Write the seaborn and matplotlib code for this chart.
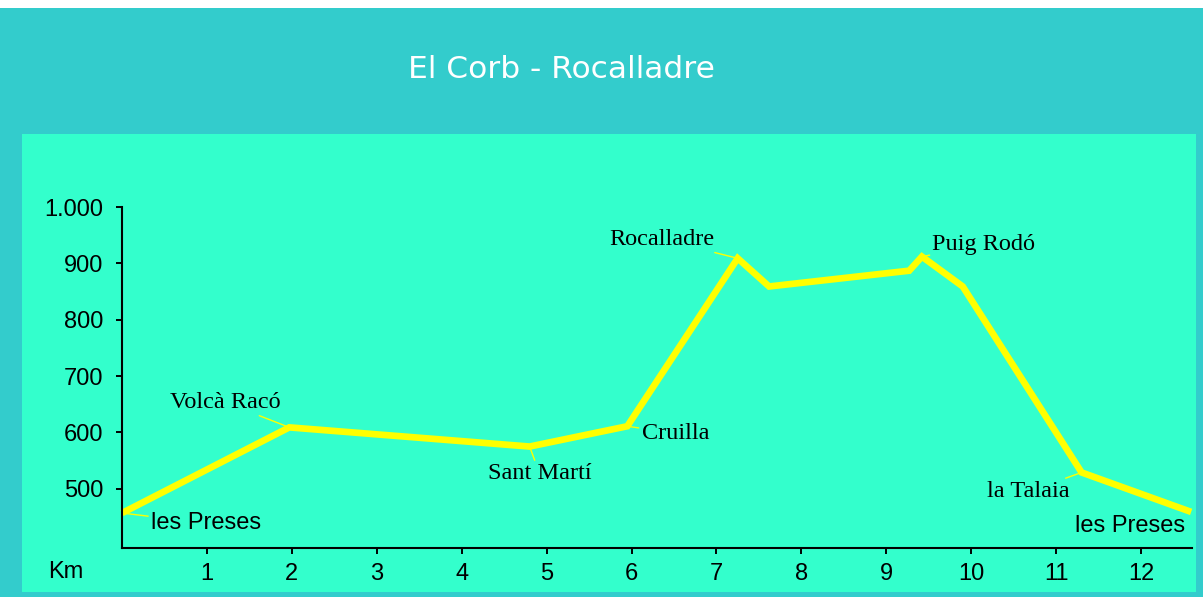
import matplotlib
matplotlib.use("Agg")
import matplotlib.pyplot as plt
from matplotlib.patches import Rectangle
import seaborn as sns

# profile of the route: km along the track and altitude (m)
km = [0.0, 1.97, 4.8, 5.95, 7.25, 7.62, 9.27, 9.42, 9.9, 11.3, 12.59]
altitude = [457, 609, 575, 611, 909, 859, 887, 912, 859, 529, 459]

# named points: index into the profile and the label text
place_idx = [0, 1, 2, 3, 4, 7, 9, 10]
place_names = ["les Preses", "Volcà Racó", "Sant Martí", "Cruilla",
               "Rocalladre", "Puig Rodó", "la Talaia", "les Preses"]

x_ticks = list(range(1, 13))
y_ticks = [500, 600, 700, 800, 900, 1000]
y_tick_labels = ["500", "600", "700", "800", "900", "1.000"]

# label placement, offset in pixels from the point (layout only)
label_offsets = [(84, -10), (-64, 25), (10, -27), (48, -7),
                 (-76, 19), (62, 12), (-53, -19), (-61, -14)]
sans_labels = {0, 7}

OUTER = "#33CCCC"
INNER = "#33FFCC"
LINE = "#FFFF00"

W, H = 1203, 597
fig = plt.figure(figsize=(W / 100, H / 100), dpi=100)
fig.patch.set_facecolor("white")

# background boxes (figure pixels, origin bottom-left)
fig.patches.append(Rectangle((0, 0), 1, (H - 8) / H, transform=fig.transFigure,
                             facecolor=OUTER, edgecolor="none", zorder=-2))
fig.patches.append(Rectangle((22 / W, (H - 592) / H), (1196 - 22) / W, (592 - 134) / H,
                             transform=fig.transFigure, facecolor=INNER,
                             edgecolor="none", zorder=-1))

fig.text(408 / W, 1 - 69 / H, "El Corb - Rocalladre", color="white",
         fontsize=22.5, family="DejaVu Sans", ha="left", va="center")

ax = fig.add_axes([122 / W, (H - 548) / H, (1192 - 122) / W, (548 - 207) / H])
ax.set_facecolor("none")

sns.lineplot(x=km, y=altitude, ax=ax, color=LINE, linewidth=4.8, sort=False,
             solid_joinstyle="miter", solid_capstyle="butt", clip_on=False)

ax.set_xlim(0, 12.6)
ax.set_ylim(395, 1000)
ax.set_xticks(x_ticks)
ax.set_xticklabels([str(t) for t in x_ticks])
ax.set_yticks(y_ticks)
ax.set_yticklabels(y_tick_labels)

for side in ["top", "right"]:
    ax.spines[side].set_visible(False)
for side in ["left", "bottom"]:
    ax.spines[side].set_linewidth(1.5)
    ax.spines[side].set_color("black")

ax.tick_params(axis="both", direction="out", length=4.5, width=1.4,
               colors="black", labelsize=17)
ax.tick_params(axis="x", pad=6)
ax.tick_params(axis="y", pad=9)
for lab in ax.get_xticklabels() + ax.get_yticklabels():
    lab.set_family("Liberation Sans")
ax.set_xlabel("")
ax.set_ylabel("")

fig.text(66 / W, 1 - 572 / H, "Km", fontsize=17, family="Liberation Sans",
         ha="center", va="center")

for i, name, off in zip(range(len(place_names)), place_names, label_offsets):
    j = place_idx[i]
    fam = "Liberation Sans" if i in sans_labels else "Liberation Serif"
    ax.annotate(name, xy=(km[j], altitude[j]), xytext=off,
                textcoords="offset pixels", ha="center", va="center",
                fontsize=17 if i in sans_labels else 17.5, family=fam,
                color="black", annotation_clip=False,
                arrowprops=dict(arrowstyle="-", color=LINE, lw=1,
                                shrinkA=0, shrinkB=2))

fig.savefig("out.png", dpi=100, facecolor=fig.get_facecolor())
